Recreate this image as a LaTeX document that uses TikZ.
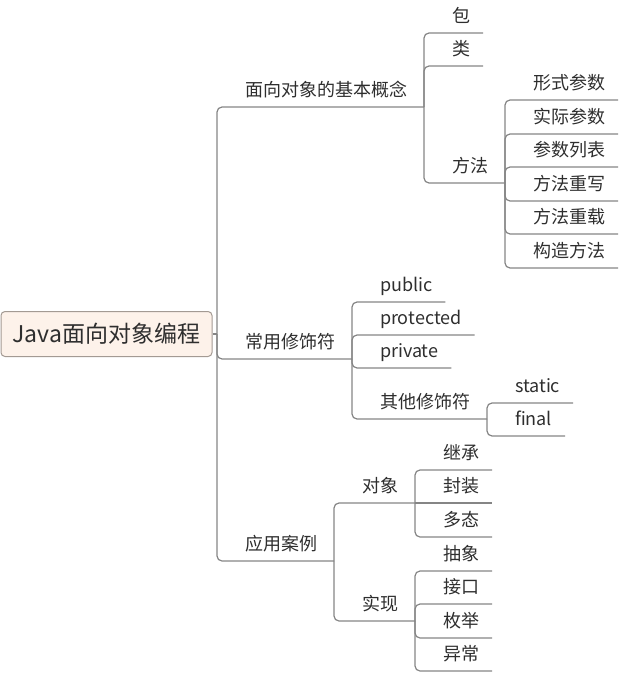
\documentclass[tikz,border=0pt]{standalone}
\usepackage{fontspec}
\setmainfont{Noto Sans CJK SC}
\usepackage{tikz}
\definecolor{linegray}{HTML}{858585}
\definecolor{rootfill}{HTML}{FDF2EA}
\definecolor{rootline}{HTML}{A39A93}
\definecolor{txtgray}{HTML}{2E2E2E}

\begin{document}
\begin{tikzpicture}[x=1pt,y=-1pt,
    topic/.style={anchor=south west, inner ysep=0pt, outer sep=0pt, text height=14pt, text depth=10.5pt, font=\fontsize{18}{20}\selectfont, text=txtgray},
    leaf/.style={topic, inner xsep=13pt, xshift=15pt},
    branch/.style={topic, inner xsep=17pt, xshift=11pt},
    link/.style={draw=linegray, line width=1.2pt, rounded corners=5pt}]
    \useasboundingbox (0,0) rectangle (640,676);
    % root topic
    \node[draw=rootline, fill=rootfill, rounded corners=4pt, line width=1pt, minimum width=211pt, minimum height=45pt, inner sep=0pt, font=\fontsize{23}{26}\selectfont, text=txtgray] (root) at (106.5,334) {Java面向对象编程};
    \coordinate (rootjoin) at (217,334);
    \draw[link] (root.east) -- (rootjoin);
    \foreach \nm/\txt/\y in {basic/面向对象的基本概念/107, modifier/常用修饰符/359, cases/应用案例/561} {
        \node[branch] (\nm) at (217,\y) {\txt};
        \draw[link] (rootjoin) |- (\nm.south east);
    }
    % basic concepts
    \foreach \nm/\txt/\y in {pkg/包/33, cls/类/66} {
        \node[leaf] (\nm) at (basic.south east |- 0,\y) {\txt};
        \draw[link] (basic.south east) |- (\nm.south east);
    }
    \node[branch] (method) at (basic.south east |- 0,183) {方法};
    \draw[link] (basic.south east) |- (method.south east);
    \foreach \nm/\txt/\y in {formal/形式参数/100, actual/实际参数/134, plist/参数列表/167, override/方法重写/201, overload/方法重载/234, ctor/构造方法/268} {
        \node[leaf] (\nm) at (method.south east |- 0,\y) {\txt};
        \draw[link] (method.south east) |- (\nm.south east);
    }
    % modifiers
    \foreach \nm/\txt/\y in {public/public/302, protected/protected/335, private/private/368} {
        \node[leaf] (\nm) at (modifier.south east |- 0,\y) {\txt};
        \draw[link] (modifier.south east) |- (\nm.south east);
    }
    \node[branch] (other) at (modifier.south east |- 0,419) {其他修饰符};
    \draw[link] (modifier.south east) |- (other.south east);
    \foreach \nm/\txt/\y in {static/static/403, final/final/436} {
        \node[leaf] (\nm) at (other.south east |- 0,\y) {\txt};
        \draw[link] (other.south east) |- (\nm.south east);
    }
    % cases
    \node[branch] (obj) at (cases.south east |- 0,503) {对象};
    \draw[link] (cases.south east) |- (obj.south east);
    \node[branch] (impl) at (cases.south east |- 0,621) {实现};
    \draw[link] (cases.south east) |- (impl.south east);
    \node[leaf] (encap) at (obj.south east) {封装};
    \draw[link] (obj.south east) -- (encap.south east);
    \foreach \nm/\txt/\y in {inherit/继承/470, poly/多态/537} {
        \node[leaf] (\nm) at (obj.south east |- 0,\y) {\txt};
        \draw[link] (obj.south east) |- (\nm.south east);
    }
    \foreach \nm/\txt/\y in {abstract/抽象/571, iface/接口/604, enum/枚举/638, except/异常/671} {
        \node[leaf] (\nm) at (impl.south east |- 0,\y) {\txt};
        \draw[link] (impl.south east) |- (\nm.south east);
    }
\end{tikzpicture}
\end{document}
